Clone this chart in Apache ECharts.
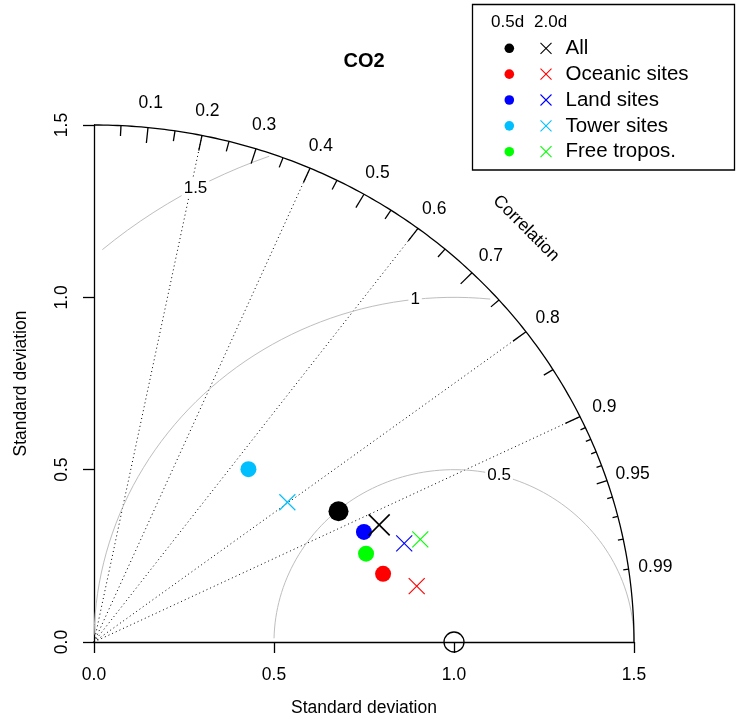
<!DOCTYPE html>
<html>
<head>
<meta charset="utf-8">
<script src="https://cdn.jsdelivr.net/npm/echarts@6/dist/echarts.min.js"></script>
<style>
  html, body { margin: 0; padding: 0; background: #ffffff; }
  #chart { width: 736px; height: 722px; }
</style>
</head>
<body>
<div id="chart"></div>
<script>
// Taylor diagram of CO2 model skill per site class.
const groups = ['All', 'Oceanic sites', 'Land sites', 'Tower sites', 'Free tropos.'];
const groupColors = ['#000000', '#ff0000', '#0000ff', '#00bfff', '#00ff00'];

// normalised standard deviation and correlation, 0.5 day averaging
const sd05  = [0.778, 0.827, 0.815, 0.660, 0.798];
const cor05 = [0.873, 0.971, 0.920, 0.650, 0.947];
// same for 2.0 day averaging
const sd20  = [0.862, 0.911, 0.908, 0.673, 0.954];
const cor20 = [0.919, 0.984, 0.949, 0.798, 0.950];

const refSd = 1.0;
const maxSd = 1.5;
const sdTicks = [0.0, 0.5, 1.0, 1.5];
const corLabels = [0.1, 0.2, 0.3, 0.4, 0.5, 0.6, 0.7, 0.8, 0.9, 0.95, 0.99];
const corRays = [0.2, 0.4, 0.6, 0.8, 0.9];
const rmsLevels = [0.5, 1, 1.5];
const seriesKeys = ['0.5d', '2.0d'];

const FONT = '"Liberation Sans", Arial, Helvetica, sans-serif';

// (sd, r) -> cartesian position in data units
function toXY(sd, r) { return [sd * r, sd * Math.sqrt(Math.max(0, 1 - r * r))]; }

const pts05 = sd05.map((s, i) => toXY(s, cor05[i]));
const pts20 = sd20.map((s, i) => toXY(s, cor20[i]));

// angles (deg, around the reference point) where the RMS contour labels sit
const rmsLabelAngles = [75.5, 96.2, 118.6];

function renderGuides(params, api) {
  const P = (x, y) => api.coord([x, y]);
  const kids = [];
  const o = P(0, 0);

  // dotted correlation rays
  corRays.forEach(c => {
    const e = P(...toXY(maxSd, c));
    kids.push({ type: 'line', shape: { x1: o[0], y1: o[1], x2: e[0], y2: e[1] },
      style: { stroke: '#000', lineWidth: 1, lineDash: [1, 3] } });
  });

  // centred RMS difference contours around the reference point
  rmsLevels.forEach(g => {
    const pts = [];
    for (let i = 0; i * 0.03 <= Math.PI; i++) {
      const t = i * 0.03;
      const x = refSd + g * Math.cos(t), y = g * Math.sin(t);
      if (x < 0) break;
      if (x * x + y * y > maxSd * maxSd) continue;
      pts.push(P(x, y));
    }
    kids.push({ type: 'polyline', shape: { points: pts },
      style: { stroke: '#bebebe', lineWidth: 1, fill: null } });
  });
  rmsLevels.forEach((g, gi) => {
    const a = rmsLabelAngles[gi] * Math.PI / 180;
    const q = P(refSd + g * Math.cos(a), g * Math.sin(a));
    kids.push({ type: 'text', x: q[0], y: q[1],
      style: { text: String(g), font: '17px ' + FONT, fill: '#000', align: 'center',
        verticalAlign: 'middle', backgroundColor: '#ffffff', padding: [1, 2] } });
  });

  // outer correlation arc
  const arc = [];
  for (let i = 0; i <= 180; i++) {
    const t = i / 180 * Math.PI / 2;
    arc.push(P(maxSd * Math.cos(t), maxSd * Math.sin(t)));
  }
  kids.push({ type: 'polyline', shape: { points: arc },
    style: { stroke: '#000', lineWidth: 1.3, fill: null } });

  // arc ticks: major, medium, minor
  const tickSet = (vals, f) => vals.forEach(c => {
    const a = P(...toXY(maxSd, c)), b = P(...toXY(maxSd * f, c));
    kids.push({ type: 'line', shape: { x1: a[0], y1: a[1], x2: b[0], y2: b[1] },
      style: { stroke: '#000', lineWidth: 1.3 } });
  });
  tickSet([0.1, 0.2, 0.3, 0.4, 0.5, 0.6, 0.7, 0.8, 0.9], 0.97);
  tickSet([0.05, 0.15, 0.25, 0.35, 0.45, 0.55, 0.65, 0.75, 0.85, 0.95], 0.98);
  tickSet([0.91, 0.92, 0.93, 0.94, 0.96, 0.97, 0.98, 0.99], 0.99);

  // correlation labels
  corLabels.forEach(c => {
    const q = P(...toXY(maxSd * 1.05, c));
    kids.push({ type: 'text', x: q[0], y: q[1] + 1.5,
      style: { text: String(c), font: '17.5px ' + FONT, fill: '#000', align: 'center', verticalAlign: 'middle' } });
  });
  const cl = P(maxSd * 0.8, maxSd * 0.8);
  kids.push({ type: 'text', x: cl[0], y: cl[1], rotation: -Math.PI / 4,
    style: { text: 'Correlation', font: '17.5px ' + FONT, fill: '#000', align: 'center', verticalAlign: 'middle' } });

  return { type: 'group', children: kids };
}

function renderCross(params, api) {
  const p = api.coord([api.value(0), api.value(1)]);
  const big = params.dataIndex === 0;
  const h = big ? 10.5 : 8;
  const col = groupColors[params.dataIndex];
  const lw = big ? 1.6 : 1.2;
  return { type: 'group', children: [
    { type: 'line', shape: { x1: p[0] - h, y1: p[1] - h, x2: p[0] + h, y2: p[1] + h }, style: { stroke: col, lineWidth: lw } },
    { type: 'line', shape: { x1: p[0] - h, y1: p[1] + h, x2: p[0] + h, y2: p[1] - h }, style: { stroke: col, lineWidth: lw } }
  ] };
}

// legend block
const legendX = 472.5, legendY = 4.5;
const rowY0 = 48.3, rowStep = 25.85;
const legendGraphics = [
  { type: 'rect', shape: { x: legendX, y: legendY, width: 262, height: 165.5 },
    style: { fill: '#ffffff', stroke: '#000', lineWidth: 1.3 }, z: 10 },
  { type: 'text', x: 491, y: 22.7, style: { text: seriesKeys[0], font: '17px ' + FONT, fill: '#000', verticalAlign: 'middle' }, z: 11 },
  { type: 'text', x: 534, y: 22.7, style: { text: seriesKeys[1], font: '17px ' + FONT, fill: '#000', verticalAlign: 'middle' }, z: 11 }
];
groups.forEach((g, i) => {
  const y = rowY0 + i * rowStep;
  legendGraphics.push({ type: 'circle', shape: { cx: 509.3, cy: y, r: 4.8 }, style: { fill: groupColors[i] }, z: 11 });
  legendGraphics.push({ type: 'line', shape: { x1: 540.5, y1: y - 5.5, x2: 551.5, y2: y + 5.5 }, style: { stroke: groupColors[i], lineWidth: 1.1 }, z: 11 });
  legendGraphics.push({ type: 'line', shape: { x1: 540.5, y1: y + 5.5, x2: 551.5, y2: y - 5.5 }, style: { stroke: groupColors[i], lineWidth: 1.1 }, z: 11 });
  legendGraphics.push({ type: 'text', x: 565.5, y: y, style: { text: g, font: '20.5px ' + FONT, fill: '#000', verticalAlign: 'middle' }, z: 11 });
});
legendGraphics.push({ type: 'text', x: 364, y: 61.5,
  style: { text: 'CO2', font: 'bold 20px ' + FONT, fill: '#000', align: 'center', verticalAlign: 'middle' }, z: 11 });

const axisCommon = {
  type: 'value', min: 0, max: maxSd, interval: 0.5,
  axisLine: { show: true, onZero: false, lineStyle: { color: '#000', width: 1.3 } },
  axisTick: { show: true, inside: false, length: 11, lineStyle: { color: '#000', width: 1.3 } },
  splitLine: { show: false },
  nameLocation: 'middle',
  nameTextStyle: { color: '#000', fontSize: 17.5, fontFamily: FONT }
};

const chart = echarts.init(document.getElementById('chart'), null, { renderer: 'canvas' });
chart.setOption({
  animation: false,
  backgroundColor: '#ffffff',
  grid: { left: 94, top: 125, width: 540, height: 517, containLabel: false, outerBoundsMode: 'none' },
  xAxis: Object.assign({}, axisCommon, {
    name: 'Standard deviation', nameGap: 57,
    axisLabel: { formatter: v => v.toFixed(1), margin: 24, color: '#000', fontSize: 17.5, fontFamily: FONT,
      showMinLabel: true, showMaxLabel: true, customValues: sdTicks }
  }),
  yAxis: Object.assign({}, axisCommon, {
    name: 'Standard deviation', nameGap: 64, nameRotate: 90,
    axisLabel: { formatter: v => v.toFixed(1), margin: 23, rotate: 90, color: '#000', fontSize: 17.5, fontFamily: FONT,
      showMinLabel: true, showMaxLabel: true, customValues: sdTicks }
  }),
  graphic: legendGraphics,
  series: [
    { type: 'custom', name: 'guides', renderItem: renderGuides, data: [[0, 0]], clip: false, silent: true, z: 1 },
    { type: 'scatter', name: 'reference', data: [[refSd, 0]], symbol: 'circle', symbolSize: 20,
      itemStyle: { color: 'transparent', borderColor: '#000', borderWidth: 1.3, opacity: 1 }, clip: false, silent: true, z: 3 },
    { type: 'scatter', name: seriesKeys[0], data: pts05, clip: false, silent: true, z: 4,
      symbol: 'circle',
      symbolSize: (v, p) => (p.dataIndex === 0 ? 20 : 16),
      itemStyle: { color: p => groupColors[p.dataIndex], opacity: 1 } },
    { type: 'custom', name: seriesKeys[1], data: pts20, renderItem: renderCross,
      encode: { x: 0, y: 1 }, clip: false, silent: true, z: 5 }
  ]
});
</script>
</body>
</html>
